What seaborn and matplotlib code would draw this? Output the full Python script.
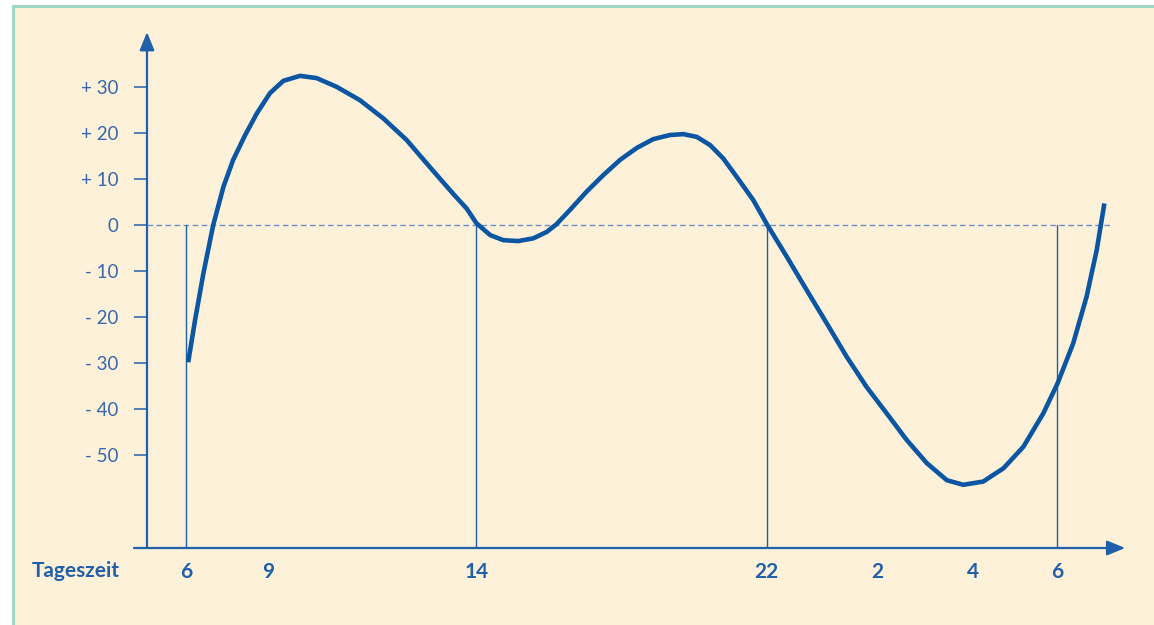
import matplotlib
matplotlib.use("Agg")
import matplotlib.pyplot as plt
from matplotlib.patches import Rectangle
import seaborn as sns
import pandas as pd

# curve (x = schematic hour position, 6 o'clock = 0, next 6 o'clock = 24)
curve_x = [0.06, 0.25, 0.48, 0.75, 1.03, 1.30, 1.63, 1.95, 2.31, 2.68, 3.14, 3.60, 4.15,
           4.79, 5.44, 6.08, 6.72, 7.36, 7.73, 8.00, 8.38, 8.74, 9.15, 9.57, 9.94,
           10.21, 10.58, 11.04, 11.50, 11.96, 12.42, 12.87, 13.33, 13.70, 14.07, 14.44,
           14.80, 15.17, 15.63, 16.00, 16.55, 17.10, 17.65, 18.20, 18.75, 19.30, 19.85,
           20.41, 20.96, 21.41, 21.96, 22.52, 23.07, 23.62, 24.01, 24.44, 24.81, 25.09,
           25.30]
curve_y = [-29.9, -20.7, -10.5, 0.0, 8.3, 14.2, 19.6, 24.3, 28.7, 31.4, 32.5, 32.0, 30.1,
           27.2, 23.2, 18.5, 12.6, 6.8, 3.6, 0.4, -2.2, -3.3, -3.5, -2.9, -1.5,
           0.2, 3.3, 7.3, 10.9, 14.2, 16.8, 18.7, 19.6, 19.8, 19.2, 17.4,
           14.5, 10.5, 5.4, 0.2, -6.9, -14.2, -21.4, -28.7, -35.3, -41.0, -46.8,
           -51.9, -55.6, -56.6, -55.9, -53.0, -48.3, -41.0, -34.5, -25.8, -15.6, -5.4,
           4.7]

x_tick_pos = [0, 2.26, 8, 16, 19.04, 21.67, 24]
x_tick_labels = ["6", "9", "14", "22", "2", "4", "6"]
y_ticks = [30, 20, 10, 0, -10, -20, -30, -40, -50]
y_tick_labels = ["+ 30", "+ 20", "+ 10", "0", "- 10", "- 20", "- 30", "- 40", "- 50"]
marker_hours = [0, 8, 16, 24]

df = pd.DataFrame({"x": curve_x, "y": curve_y})

sns.set_style("white")
plt.rcParams["font.family"] = ["Lato", "DejaVu Sans"]

blue = "#0b56a2"
axis_blue = "#2060a8"
label_blue = "#3767ad"
cream = "#fef1da"

W, H = 1154, 625
fig = plt.figure(figsize=(W / 100, H / 100), dpi=100, facecolor="white")
fig.patches.append(Rectangle((13 / W, -0.05), 1.1, (H - 6) / H + 0.05, transform=fig.transFigure,
                             facecolor=cream, edgecolor="#9fd6c5", linewidth=2.2, zorder=-10))

px = 36.3      # pixels per schematic hour
py = 4.59      # pixels per unit
x0, y0 = 186, 225
left_px, right_px, bottom_px, top_px = 147, 1128, 548, 33
ax = fig.add_axes([left_px / W, (H - bottom_px) / H, (right_px - left_px) / W, (bottom_px - top_px) / H])
ax.set_facecolor("none")
xmin, xmax = (left_px - x0) / px, (right_px - x0) / px
ymin, ymax = (y0 - bottom_px) / py, (y0 - top_px) / py
ax.set_xlim(xmin, xmax)
ax.set_ylim(ymin, ymax)
for s in ax.spines.values():
    s.set_visible(False)

# axes with arrows
ax.plot([xmin - 13 / px, xmax - 0.5], [ymin, ymin], color=axis_blue, lw=1.6, clip_on=False)
ax.annotate("", xy=(xmax, ymin), xytext=(xmax - 0.6, ymin),
            arrowprops=dict(arrowstyle="-|>,head_length=1.1,head_width=0.45", color=axis_blue, lw=1.6),
            annotation_clip=False)
ax.plot([xmin, xmin], [ymin, ymax - 3], color=axis_blue, lw=1.6, clip_on=False)
ax.annotate("", xy=(xmin, ymax + 0.8), xytext=(xmin, ymax - 3.0),
            arrowprops=dict(arrowstyle="-|>,head_length=1.1,head_width=0.45", color=axis_blue, lw=1.6),
            annotation_clip=False)

# zero line and hour markers
ax.plot([xmin, (1112 - x0) / px], [0, 0], color="#6b8fc6", lw=1.0, ls=(0, (4, 2.5)))
for h in marker_hours:
    ax.plot([h, h], [ymin, 0], color=axis_blue, lw=1.0)

sns.lineplot(data=df, x="x", y="y", sort=False, estimator=None, color=blue, lw=3.3,
             solid_capstyle="butt", solid_joinstyle="round", ax=ax)

ax.set_yticks(y_ticks)
ax.set_yticklabels(y_tick_labels, fontsize=13.5, color=label_blue)
ax.tick_params(axis="y", direction="out", length=9.4, width=1.1, color=axis_blue, pad=11, left=True)
ax.set_xticks(x_tick_pos)
ax.set_xticklabels(x_tick_labels, fontsize=15, color=axis_blue, fontweight="bold")
ax.tick_params(axis="x", length=0, pad=10)
ax.set_xlabel("")
ax.set_ylabel("")

fig.text(32 / W, (H - 571) / H, "Tageszeit", fontsize=15, fontweight="bold", color=axis_blue,
         ha="left", va="center")

fig.savefig("out.png", dpi=100, facecolor="white")
